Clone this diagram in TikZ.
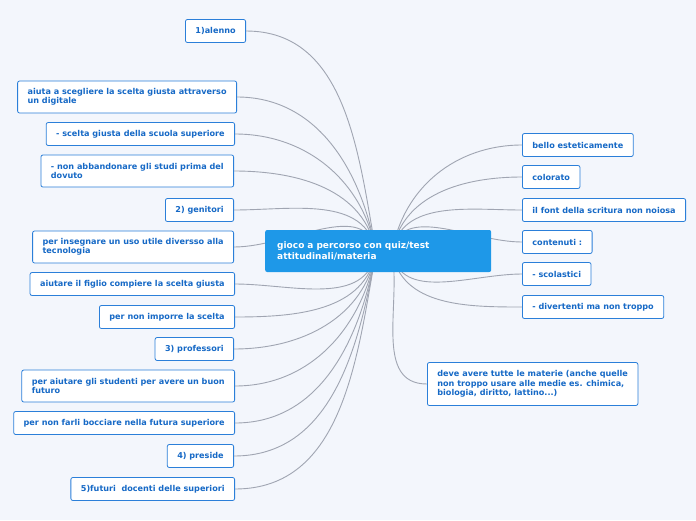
\documentclass[tikz,border=0pt]{standalone}
\usepackage{fontspec}
\setmainfont{DejaVu Sans}
\usetikzlibrary{positioning}
\definecolor{bgcol}{HTML}{F3F6FC}
\definecolor{topicblue}{HTML}{1E98E8}
\definecolor{leafblue}{HTML}{2B7FD9}
\definecolor{leaftext}{HTML}{1669C6}
\definecolor{linkgray}{HTML}{A0A5B2}
\begin{document}
\begin{tikzpicture}[x=1pt,y=-1pt,
  leaf/.style={rectangle, rounded corners=2pt, draw=leafblue, thick, fill=white,
    text=leaftext, font=\fontsize{8.1}{9.3}\selectfont\bfseries, inner xsep=10pt, minimum height=23pt, align=left},
  lleaf/.style={leaf, anchor=east},
  rleaf/.style={leaf, anchor=west},
  topic/.style={rectangle, rounded corners=2pt, fill=topicblue, text=white, anchor=west,
    font=\fontsize{9}{10.5}\selectfont\bfseries, text width=202pt, minimum height=42pt, inner xsep=12pt, align=left},
  link/.style={linkgray, line width=0.9pt}]
\fill[bgcol] (0,0) rectangle (696,520);

\coordinate (hubL) at (376,252);
\coordinate (hubR) at (392,252);

% left side
\node[lleaf] (alenno) at (246,31) {1)alenno};
\node[lleaf, minimum height=32pt] (aiuta) at (237,97) {aiuta a scegliere la scelta giusta attraverso\\un digitale};
\node[lleaf] (scelta) at (235,134) {- scelta giusta della scuola superiore};
\node[lleaf, minimum height=32pt] (abband) at (234,171) {- non abbandonare gli studi prima del\\dovuto};
\node[lleaf] (genit) at (234,210) {2) genitori};
\node[lleaf, minimum height=32pt] (insegn) at (234,247) {per insegnare un uso utile diversso alla\\tecnologia};
\node[lleaf] (figlio) at (235,284) {aiutare il figlio compiere la scelta giusta};
\node[lleaf] (imporre) at (235,317) {per non imporre la scelta};
\node[lleaf] (prof) at (234,349) {3) professori};
\node[lleaf, minimum height=32pt] (studenti) at (235,386) {per aiutare gli studenti per avere un buon\\futuro};
\node[lleaf] (bocciare) at (235,423) {per non farli bocciare nella futura superiore};
\node[lleaf] (preside) at (234,456) {4) preside};
\node[lleaf] (futuri) at (235,489) {5)futuri\ \ docenti delle superiori};

% right side
\node[rleaf] (bello) at (522,145) {bello esteticamente};
\node[rleaf] (colorato) at (522,177) {colorato};
\node[rleaf] (font) at (522,210) {il font della scritura non noiosa};
\node[rleaf] (contenuti) at (522,242) {contenuti :};
\node[rleaf] (scolast) at (522,274) {- scolastici};
\node[rleaf] (divert) at (522,307) {- divertenti ma non troppo};
\node[rleaf, minimum height=43pt] (materie) at (427,384) {deve avere tutte le materie (anche quelle\\non troppo usare alle medie es. chimica,\\biologia, diritto, lattino...)};

\foreach \n in {alenno,aiuta,scelta,abband,genit,insegn}
  \draw[link] (hubL) to[out=100, in=0] (\n.east);
\foreach \n in {figlio,imporre,prof,studenti,bocciare,preside,futuri}
  \draw[link] (hubL) to[out=260, in=0] (\n.east);
\foreach \n in {bello,colorato,font,contenuti}
  \draw[link] (hubR) to[out=80, in=180] (\n.west);
\foreach \n in {scolast,divert,materie}
  \draw[link] (hubR) to[out=280, in=180] (\n.west);

\node[topic] (root) at (265,251) {gioco a percorso con quiz/test\\attitudinali/materia};
\end{tikzpicture}
\end{document}
